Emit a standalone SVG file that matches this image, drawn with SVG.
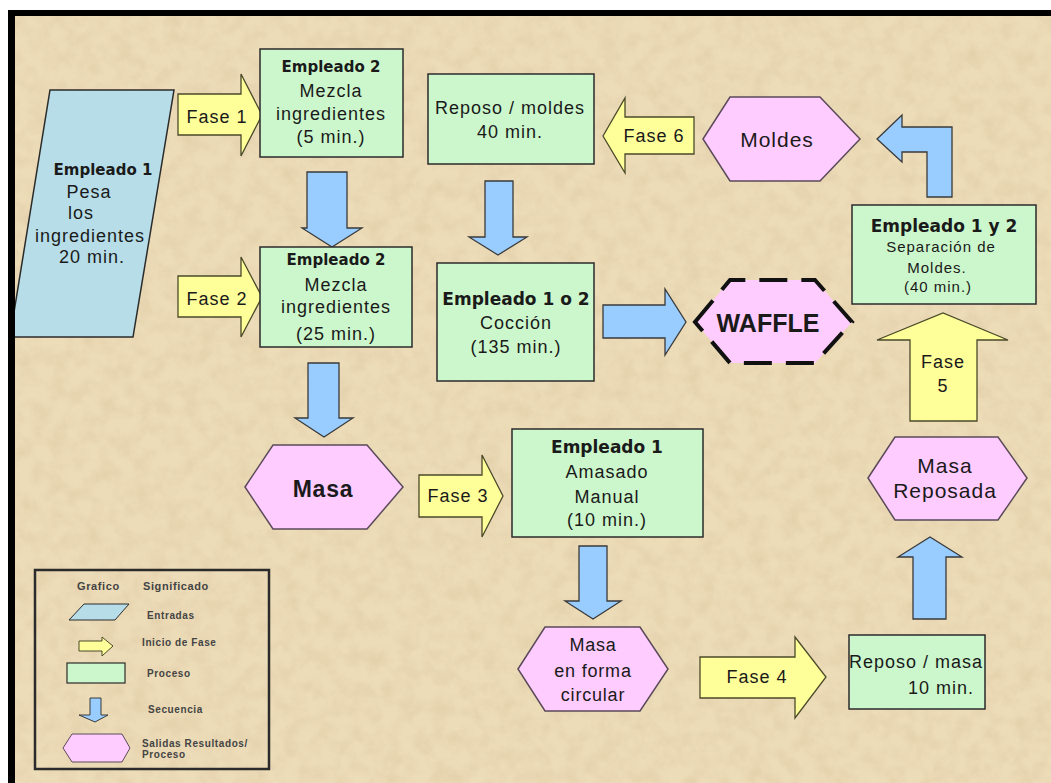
<svg xmlns="http://www.w3.org/2000/svg" width="1051" height="783" viewBox="0 0 1051 783">
<defs>
<filter id="tex" x="0" y="0" width="100%" height="100%">
<feTurbulence type="fractalNoise" baseFrequency="0.06" numOctaves="4" seed="7" result="n"/>
<feColorMatrix in="n" type="matrix" values="0 0 0 0 0.66  0 0 0 0 0.52  0 0 0 0 0.32  1.4 0 0 0 -0.5"/>
</filter>
<style>
.proc{fill:#CCF7CC;stroke:#2b2b2b;stroke-width:1.5}
.hex{fill:#FFCCFF;stroke:#5a4a5a;stroke-width:1.5}
.fase{fill:#FFFF99;stroke:#4a4a2a;stroke-width:1.3}
.seq{fill:#99CCFF;stroke:#3a3a3a;stroke-width:1.3}
.inp{fill:#B7DEE8;stroke:#2b2b2b;stroke-width:1.5}
text{font-family:"Liberation Sans",Arial,sans-serif;fill:#1a1a1a;text-anchor:middle}
.r{font-size:18px;letter-spacing:1px}
.b{font-family:"DejaVu Sans",Verdana,sans-serif;font-weight:bold;font-size:15px}
.b17{font-family:"DejaVu Sans",Verdana,sans-serif;font-weight:bold;font-size:17px}
.s{font-size:15px;letter-spacing:1px}
.h{font-size:21px;letter-spacing:1px}
.lg{font-size:10px;font-weight:bold;fill:#444;text-anchor:start;letter-spacing:0.6px}
</style>
</defs>
<rect x="0" y="0" width="1051" height="783" fill="#ffffff"/>
<rect x="15" y="16" width="1036" height="767" fill="#EDDCB8"/>
<rect x="15" y="16" width="1036" height="767" filter="url(#tex)" opacity="0.5"/>

<g id="connectors">
<polygon class="fase" points="178,94 241,94 241,74 262,115 241,156 241,135 178,135"/>
<text class="r" x="217" y="123">Fase 1</text>
<polygon class="fase" points="178,276 241,276 241,257 262,297 241,337 241,317 178,317"/>
<text class="r" x="217" y="305">Fase 2</text>
<polygon class="fase" points="419,475 482,475 482,455 503,496 482,537 482,517 419,517"/>
<text class="r" x="458" y="502">Fase 3</text>
<polygon class="fase" points="700,657 795,657 795,637 826,677 795,718 795,698 700,698"/>
<text class="r" x="757" y="683">Fase 4</text>
<polygon class="fase" points="910,421 910,340 877,340 943,313 1008,340 977,340 977,421"/>
<text class="r" x="943" y="368">Fase</text>
<text class="r" x="943" y="392">5</text>
<polygon class="fase" points="603,136 625,98 625,117 694,117 694,154 625,154 625,173"/>
<text class="r" x="654" y="142">Fase 6</text>
<polygon class="seq" points="307,172 347,172 347,228 362,228 332,247 302,228 307,228"/>
<polygon class="seq" points="308,363 339,363 339,418 353,418 324,437 295,418 308,418"/>
<polygon class="seq" points="579,546 607,546 607,601 621,601 593,619 565,601 579,601"/>
<polygon class="seq" points="913,619 946,619 946,557 962,557 930,537 898,557 913,557"/>
<polygon class="seq" points="485,181 513,181 513,237 527,237 498,255 469,237 485,237"/>
<polygon class="seq" points="603,305 665,305 665,289 686,322 665,355 665,338 603,338"/>
<polygon class="seq" points="877,139 902,115 902,127 952,127 952,197 927,197 927,152 902,152 902,162"/>
</g>

<g id="empleado1-pesa">
<polygon class="inp" points="50,90 174,90 133,337 10,337"/>
<text class="b" x="103" y="175">Empleado 1</text>
<text class="r" x="89" y="198">Pesa</text>
<text class="r" x="81" y="219">los</text>
<text class="r" x="90" y="242">ingredientes</text>
<text class="r" x="92" y="263">20 min.</text>
</g>

<g id="mezcla5">
<rect class="proc" x="260" y="49" width="143" height="108"/>
<text class="b" x="331" y="72">Empleado 2</text>
<text class="r" x="331" y="97">Mezcla</text>
<text class="r" x="331" y="120">ingredientes</text>
<text class="r" x="331" y="143">(5 min.)</text>
</g>

<g id="mezcla25">
<rect class="proc" x="260" y="247" width="152" height="100"/>
<text class="b" x="336" y="265">Empleado 2</text>
<text class="r" x="336" y="291">Mezcla</text>
<text class="r" x="336" y="313">ingredientes</text>
<text class="r" x="336" y="340">(25 min.)</text>
</g>

<g id="masa">
<polygon class="hex" points="245,487 273,445 367,445 403,487 367,529 273,529"/>
<text x="323" y="497" style="font-size:23px;font-weight:bold;letter-spacing:0.8px">Masa</text>
</g>

<g id="amasado">
<rect class="proc" x="512" y="429" width="191" height="108"/>
<text class="b17" x="607" y="453">Empleado 1</text>
<text class="r" x="607" y="478">Amasado</text>
<text class="r" x="607" y="503">Manual</text>
<text class="r" x="607" y="526">(10 min.)</text>
</g>

<g id="masa-circular">
<polygon class="hex" points="518,669 545,627 640,627 668,669 640,711 545,711"/>
<text class="r" x="593" y="651" style="letter-spacing:0.8px">Masa</text>
<text class="r" x="593" y="677" style="letter-spacing:0.8px">en forma</text>
<text class="r" x="593" y="701" style="letter-spacing:0.8px">circular</text>
</g>

<g id="reposo-masa">
<rect class="proc" x="849" y="635" width="136" height="74"/>
<text class="r" x="916" y="668">Reposo / masa</text>
<text class="r" x="941" y="694">10 min.</text>
</g>

<g id="masa-reposada">
<polygon class="hex" points="868,478 895,437 998,437 1027,478 998,520 895,520"/>
<text class="h" x="945" y="473">Masa</text>
<text class="h" x="945" y="498">Reposada</text>
</g>

<g id="separacion">
<rect class="proc" x="852" y="205" width="184" height="99"/>
<text class="b17" x="944" y="232">Empleado 1 y 2</text>
<text class="s" x="941" y="252">Separación de</text>
<text class="s" x="937" y="273">Moldes.</text>
<text class="s" x="938" y="292">(40 min.)</text>
</g>

<g id="moldes">
<polygon class="hex" points="703,139 730,97 820,97 860,139 820,181 730,181"/>
<text class="h" x="777" y="147">Moldes</text>
</g>

<g id="reposo-moldes">
<rect class="proc" x="428" y="74" width="166" height="90"/>
<text class="r" x="510" y="114">Reposo / moldes</text>
<text class="r" x="510" y="138">40 min.</text>
</g>

<g id="coccion">
<rect class="proc" x="437" y="263" width="157" height="118"/>
<text class="b17" x="516" y="305">Empleado 1 o 2</text>
<text class="r" x="516" y="329">Cocción</text>
<text class="r" x="516" y="353">(135 min.)</text>
</g>

<g id="waffle">
<polygon points="695,322 730,280 815,280 852,322 815,363 730,363" fill="#FFCCFF" stroke="#111" stroke-width="4" stroke-dasharray="28,14"/>
<text x="768" y="332" style="font-size:25px;font-weight:bold">WAFFLE</text>
</g>

<g id="legend">
<rect x="35" y="570" width="234" height="199" fill="none" stroke="#2b2b2b" stroke-width="2.5"/>
<text class="lg" x="77" y="590" style="font-size:11px">Grafico</text>
<text class="lg" x="143" y="590" style="font-size:11px">Significado</text>
<polygon class="inp" points="69,620 84,604 129,604 115,620" style="stroke-width:1"/>
<text class="lg" x="147" y="619">Entradas</text>
<polygon class="fase" points="79,641 102,641 102,637 113,646 102,656 102,651 79,651" style="stroke-width:1"/>
<text class="lg" x="142" y="646">Inicio de Fase</text>
<rect class="proc" x="67" y="663" width="58" height="20" style="stroke-width:1.2"/>
<text class="lg" x="147" y="677">Proceso</text>
<polygon class="seq" points="90,698 101,698 101,715 108,715 95,722 79,715 90,715" style="stroke-width:1"/>
<text class="lg" x="148" y="713">Secuencia</text>
<polygon class="hex" points="63,748 72,734 122,734 130,748 122,762 72,762" style="stroke-width:1"/>
<text class="lg" x="142" y="747">Salidas Resultados/</text>
<text class="lg" x="142" y="758">Proceso</text>
</g>

<rect x="8" y="10" width="1043" height="6" fill="#000"/>
<rect x="8" y="10" width="7" height="773" fill="#000"/>
</svg>
